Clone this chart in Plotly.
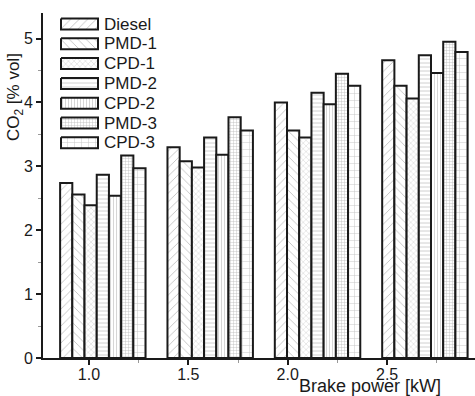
import plotly.graph_objects as go

# Brake power at each test load [kW]
brake_power = [1.07, 1.61, 2.15, 2.69]

fuels = ["Diesel", "PMD-1", "CPD-1", "PMD-2", "CPD-2", "PMD-3", "CPD-3"]

# CO2 concentration in the exhaust [% vol]
co2_diesel = [2.74, 3.30, 4.00, 4.66]
co2_pmd1 = [2.56, 3.08, 3.56, 4.26]
co2_cpd1 = [2.39, 2.98, 3.45, 4.06]
co2_pmd2 = [2.87, 3.45, 4.15, 4.74]
co2_cpd2 = [2.54, 3.18, 3.97, 4.46]
co2_pmd3 = [3.17, 3.77, 4.45, 4.95]
co2_cpd3 = [2.97, 3.56, 4.26, 4.79]

series = [co2_diesel, co2_pmd1, co2_cpd1, co2_pmd2, co2_cpd2, co2_pmd3, co2_cpd3]

# hatch style for each fuel: (shape, tile size, line solidity, line colour)
hatches = [
    ("/", 6, 0.14, "#bdbdbd"),
    ("\\", 6, 0.14, "#bdbdbd"),
    ("x", 4, 0.18, "#c2c2c2"),
    ("-", 4, 0.2, "#c4c4c4"),
    ("|", 3, 0.25, "#c8c8c8"),
    ("+", 3, 0.25, "#b8b8b8"),
    ("+", 7, 0.13, "#c4c4c4"),
]

W, H = 475, 396
ML, MR, MT, MB = 43, 0, 13, 38
PW, PH = W - ML - MR, H - MT - MB

FONT = "Liberation Sans, Arial, Helvetica, sans-serif"
INK = "#1a1a1a"
BAR_W = 0.0614
GROUP_W = BAR_W * len(fuels)


def pattern(i):
    shape, size, sol, col = hatches[i]
    return dict(shape=shape, size=size, solidity=sol, fgcolor=col,
                bgcolor="white", fillmode="replace")


fig = go.Figure()

for i, (name, vals) in enumerate(zip(fuels, series)):
    fig.add_trace(go.Bar(
        x=brake_power, y=vals, name=name,
        width=BAR_W, offset=-GROUP_W / 2 + i * BAR_W,
        marker=dict(color="white", line=dict(color=INK, width=2),
                    pattern=pattern(i)),
        showlegend=False, hoverinfo="x+y+name",
    ))

# hatched legend swatches drawn on a pixel-unit overlay axis
SW_X0, SW_X1 = 18, 55
ROW0, ROW_STEP, SW_H = 11, 19.8, 11
annotations = []
for i, name in enumerate(fuels):
    yc = ROW0 + i * ROW_STEP
    y0, y1 = yc - SW_H / 2, yc + SW_H / 2
    fig.add_trace(go.Scatter(
        x=[SW_X0, SW_X1, SW_X1, SW_X0, SW_X0],
        y=[y0, y0, y1, y1, y0],
        xaxis="x2", yaxis="y2", mode="lines", fill="toself",
        fillcolor="white", fillpattern=pattern(i),
        line=dict(color=INK, width=2),
        showlegend=False, hoverinfo="skip",
    ))
    annotations.append(dict(
        x=SW_X1 + 4, y=yc, xref="x2", yref="y2", text=name,
        showarrow=False, xanchor="left", yanchor="middle",
        font=dict(family=FONT, size=17, color=INK),
    ))


def px_x(p):
    return (p - ML) / PW


def px_y(p):
    return (H - MB - p) / PH


annotations.append(dict(
    x=px_x(15), y=px_y(97), xref="paper", yref="paper",
    text="CO<sub>2</sub> [% vol]", textangle=-90, showarrow=False,
    xanchor="center", yanchor="middle",
    font=dict(family=FONT, size=17, color=INK),
))
annotations.append(dict(
    x=px_x(370), y=px_y(386), xref="paper", yref="paper",
    text="Brake power [kW]", showarrow=False,
    xanchor="center", yanchor="middle",
    font=dict(family=FONT, size=18, color=INK),
))

fig.update_layout(
    width=W, height=H,
    margin=dict(l=ML, r=MR, t=MT, b=MB, pad=0),
    paper_bgcolor="white", plot_bgcolor="white",
    barmode="overlay", showlegend=False,
    font=dict(family=FONT, size=16, color=INK),
    annotations=annotations,
    xaxis=dict(
        range=[0.769, 2.942], tick0=0, dtick=0.5, tickformat=".1f",
        showgrid=False, zeroline=False,
        showline=True, linecolor=INK, linewidth=2,
        ticks="outside", ticklen=5, tickwidth=1.5, tickcolor=INK,
        ticklabelstandoff=-4,
        minor=dict(dtick=0.25, ticks="outside", ticklen=3, tickcolor="#999999", tickwidth=1),
        tickfont=dict(family=FONT, size=16, color=INK),
    ),
    yaxis=dict(
        range=[0, 5.4], tick0=0, dtick=1,
        showgrid=False, zeroline=False,
        showline=True, linecolor=INK, linewidth=2,
        ticks="outside", ticklen=5, tickwidth=1.5, tickcolor=INK,
        minor=dict(dtick=0.5, ticks="outside", ticklen=3, tickcolor="#999999", tickwidth=1),
        tickfont=dict(family=FONT, size=16, color=INK),
    ),
    xaxis2=dict(domain=[0, 1], range=[0, PW], overlaying="x", anchor="y2",
                visible=False, fixedrange=True),
    yaxis2=dict(domain=[0, 1], range=[PH, 0], overlaying="y", anchor="x2",
                visible=False, fixedrange=True),
)

fig.write_html("out.html")
